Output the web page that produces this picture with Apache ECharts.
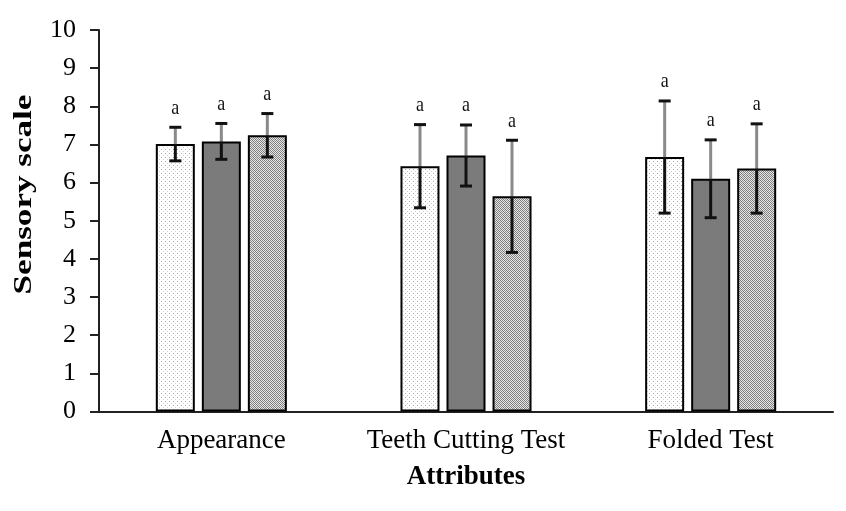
<!DOCTYPE html>
<html><head><meta charset="utf-8">
<script src="https://cdn.jsdelivr.net/npm/echarts@6/dist/echarts.min.js"></script>
<style>html,body{margin:0;padding:0;background:#fff}#c{width:846px;height:511px}</style>
</head><body><div id="c"></div>
<script>
var categories = ['Appearance', 'Teeth Cutting Test', 'Folded Test'];
var seriesNames = ['Sample 1', 'Sample 2', 'Sample 3'];
var means1 = [7.01, 6.43, 6.67];
var means2 = [7.08, 6.71, 6.10];
var means3 = [7.24, 5.64, 6.37];
var sd1 = [0.44, 1.09, 1.47];
var sd2 = [0.47, 0.80, 1.02];
var sd3 = [0.57, 1.47, 1.17];
var letters1 = ['a', 'a', 'a'];
var letters2 = ['a', 'a', 'a'];
var letters3 = ['a', 'a', 'a'];
var yTicks = [0, 1, 2, 3, 4, 5, 6, 7, 8, 9, 10];
var yTitle = 'Sensory scale';
var xTitle = 'Attributes';

function makePattern(type) {
  var c = document.createElement('canvas');
  c.width = 4; c.height = 4;
  var ctx = c.getContext('2d');
  if (type === 'dots') {
    ctx.fillStyle = '#ffffff'; ctx.fillRect(0, 0, 4, 4);
    ctx.fillStyle = '#a8a8a8'; ctx.fillRect(1, 1, 1, 1);
    ctx.fillStyle = '#d0d0d0'; ctx.fillRect(3, 3, 1, 1);
  } else if (type === 'dark') {
    ctx.fillStyle = '#7a7a7a'; ctx.fillRect(0, 0, 4, 4);
    ctx.fillStyle = '#828282'; ctx.fillRect(0, 0, 1, 1); ctx.fillRect(2, 2, 1, 1);
  } else {
    for (var x = 0; x < 4; x++) for (var y = 0; y < 4; y++) {
      ctx.fillStyle = ((x + y) % 2 === 0) ? '#8c8c8c' : '#e6e6e6';
      if ((x - y + 4) % 4 === 0) ctx.fillStyle = '#777777';
      ctx.fillRect(x, y, 1, 1);
    }
  }
  return { image: c, repeat: 'repeat' };
}
var fills = [makePattern('dots'), makePattern('dark'), makePattern('hatch')];
var allMeans = [means1, means2, means3];
var allSd = [sd1, sd2, sd3];
var allLetters = [letters1, letters2, letters3];

var BAR_W = 39, GAP = 7;
var serif = 'Liberation Serif, Times New Roman, serif';

var series = [];
for (var s = 0; s < 3; s++) {
  series.push({
    name: seriesNames[s], type: 'bar', data: allMeans[s], barWidth: BAR_W, barGap: '18%',
    itemStyle: { color: fills[s], borderColor: '#000', borderWidth: 2 }, z: 2
  });
}
for (var s2 = 0; s2 < 3; s2++) {
  (function (si) {
    var data = allMeans[si].map(function (m, i) { return [i, m, allSd[si][i]]; });
    series.push({
      type: 'custom', z: 5, data: data,
      renderItem: function (params, api) {
        var ci = api.value(0), m = api.value(1), sd = api.value(2);
        var off = (si - 1) * (BAR_W + GAP);
        var pm = api.coord([ci, m]);
        var pt = api.coord([ci, m + sd]);
        var pb = api.coord([ci, m - sd]);
        var x = pm[0] + off;
        var letter = allLetters[si][params.dataIndex];
        return {
          type: 'group', children: [
            { type: 'line', shape: { x1: x, y1: pt[1], x2: x, y2: pm[1] }, style: { stroke: '#8a8a8a', lineWidth: 3 } },
            { type: 'line', shape: { x1: x, y1: pm[1], x2: x, y2: pb[1] }, style: { stroke: '#111', lineWidth: 3 } },
            { type: 'line', shape: { x1: x - 6, y1: pt[1], x2: x + 6, y2: pt[1] }, style: { stroke: '#111', lineWidth: 3 } },
            { type: 'line', shape: { x1: x - 6, y1: pb[1], x2: x + 6, y2: pb[1] }, style: { stroke: '#111', lineWidth: 3 } },
            { type: 'text', x: x, y: pt[1] - 19, scaleY: 1.15, style: { text: letter, align: 'center', verticalAlign: 'middle', font: '18px ' + serif, fill: '#111' } }
          ]
        };
      }
    });
  })(s2);
}

var chart = echarts.init(document.getElementById('c'));
chart.setOption({
  animation: false,
  backgroundColor: '#fff',
  grid: { left: 99, right: 13, top: 30, bottom: 99.5, outerBoundsMode: 'none', containLabel: false },
  graphic: [
    { type: 'text', x: 25, y: 194.5, rotation: Math.PI / 2, scaleX: 1.35, scaleY: 0.95,
      style: { text: yTitle, align: 'center', verticalAlign: 'middle', font: 'bold 26px ' + serif, fill: '#000' } }
  ],
  xAxis: {
    type: 'category', data: categories,
    name: xTitle, nameLocation: 'middle', nameGap: 52,
    nameTextStyle: { fontFamily: serif, fontSize: 27, fontWeight: 'bold', color: '#000' },
    axisLine: { lineStyle: { color: '#222', width: 2 } },
    axisTick: { show: false },
    axisLabel: { fontFamily: serif, fontSize: 27, color: '#000', margin: 16, interval: 0, hideOverlap: false }
  },
  yAxis: {
    type: 'value', min: 0, max: 10, interval: 1,
    axisLine: { show: true, lineStyle: { color: '#222', width: 2 } },
    axisTick: { show: true, length: 9, lineStyle: { color: '#222', width: 2 } },
    splitLine: { show: false },
    axisLabel: { fontFamily: serif, fontSize: 26, color: '#000', margin: 23,
      formatter: function (v) { return yTicks.indexOf(v) >= 0 ? String(v) : ''; } }
  },
  series: series
});
</script></body></html>
